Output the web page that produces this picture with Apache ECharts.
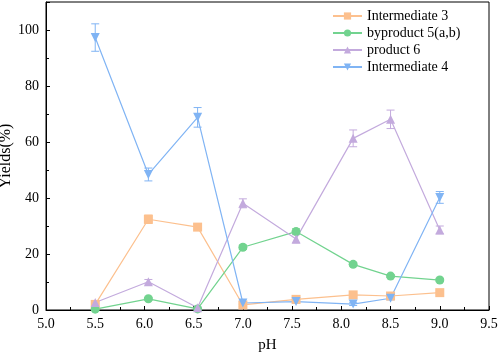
<!DOCTYPE html>
<html>
<head>
<meta charset="utf-8">
<script src="https://cdn.jsdelivr.net/npm/echarts@6/dist/echarts.min.js"></script>
<style>
  html, body { margin: 0; padding: 0; background: #fff; }
  #chart { width: 498px; height: 357px; }
</style>
</head>
<body>
<div id="chart"></div>
<script>
// pH values where samples were taken
const phValues = [5.5, 6.04, 6.54, 7.0, 7.54, 8.12, 8.5, 9.0]

const inter3 = [2.0, 32.4, 29.6, 1.8, 3.8, 5.4, 5.0, 6.2]
const inter3Err = [0.5, 1.5, 1.0, 0.5, 0.5, 0.5, 0.5, 0.6]

const byprod5 = [0.3, 4.0, 0.4, 22.4, 28.0, 16.3, 12.1, 10.7]
const byprod5Err = [0.3, 0.5, 0.3, 0.8, 1.0, 0.6, 0.5, 0.6]

const prod6 = [2.7, 10.1, 0.8, 38.1, 25.4, 61.3, 68.1, 28.6]
const prod6Err = [0.5, 0.8, 0.3, 1.6, 1.5, 3.0, 3.3, 1.4]

const inter4 = [97.3, 48.4, 68.8, 2.5, 3.0, 2.1, 4.2, 40.2]
const inter4Err = [4.9, 2.3, 3.5, 0.5, 0.5, 0.5, 0.6, 2.1]

const names = ['Intermediate 3', 'byproduct 5(a,b)', 'product 6', 'Intermediate 4']
const colors = ['#fcc08e', '#72d38f', '#c3aadd', '#80b4f4']
const symbols = ['rect', 'circle', 'triangle', 'triangle']
const rotates = [0, 0, 0, 180]
const values = [inter3, byprod5, prod6, inter4]
const errors = [inter3Err, byprod5Err, prod6Err, inter4Err]

const font = 'Liberation Serif'

const chart = echarts.init(document.getElementById('chart'))

let series = []
names.forEach((name, i) => {
  series.push({
    name: name,
    type: 'line',
    data: phValues.map((x, j) => [x, values[i][j]]),
    symbol: symbols[i],
    symbolSize: 9,
    symbolRotate: rotates[i],
    lineStyle: { color: colors[i], width: 1.2 },
    itemStyle: { color: colors[i] },
    z: 3
  })
  // error bars
  series.push({
    name: name + ' err',
    type: 'custom',
    data: phValues.map((x, j) => [x, values[i][j] - errors[i][j], values[i][j] + errors[i][j]]),
    renderItem: (params, api) => {
      const lo = api.coord([api.value(0), api.value(1)])
      const hi = api.coord([api.value(0), api.value(2)])
      const w = 4
      const style = { stroke: colors[i], lineWidth: 1 }
      return {
        type: 'group',
        children: [
          { type: 'line', shape: { x1: lo[0], y1: lo[1], x2: hi[0], y2: hi[1] }, style: style },
          { type: 'line', shape: { x1: lo[0] - w, y1: lo[1], x2: lo[0] + w, y2: lo[1] }, style: style },
          { type: 'line', shape: { x1: hi[0] - w, y1: hi[1], x2: hi[0] + w, y2: hi[1] }, style: style }
        ]
      }
    },
    z: 2
  })
})

let option = {
  animation: false,
  grid: {
    left: 46, right: 9, top: 2, bottom: 47,
    outerBoundsMode: 'none',
    show: true, borderColor: '#000', borderWidth: 1
  },
  legend: {
    data: names,
    orient: 'vertical',
    left: 327,
    top: 4,
    itemWidth: 29,
    itemHeight: 9,
    itemGap: 3,
    textStyle: { fontFamily: font, fontSize: 14, color: '#000' }
  },
  xAxis: {
    type: 'value',
    min: 5.0,
    max: 9.5,
    interval: 0.5,
    name: 'pH',
    nameLocation: 'middle',
    nameGap: 28,
    nameMoveOverlap: false,
    nameTextStyle: { fontFamily: font, fontSize: 15, color: '#000' },
    axisLine: { lineStyle: { color: '#000', width: 1 } },
    axisTick: { inside: true, length: 4, lineStyle: { color: '#000' } },
    minorTick: { show: true, splitNumber: 2, length: 3, lineStyle: { color: '#000' } },
    axisLabel: {
      fontFamily: font, fontSize: 14, color: '#000', margin: 7,
      formatter: v => v.toFixed(1)
    },
    splitLine: { show: false }
  },
  yAxis: {
    type: 'value',
    min: 0,
    max: 110,
    interval: 20,
    name: 'Yields(%)',
    nameLocation: 'middle',
    nameGap: 32,
    nameMoveOverlap: false,
    nameTextStyle: { fontFamily: font, fontSize: 16, color: '#000' },
    axisLine: { show: true, lineStyle: { color: '#000', width: 1 } },
    axisTick: { inside: true, length: 4, lineStyle: { color: '#000' } },
    minorTick: { show: true, splitNumber: 2, length: 3, lineStyle: { color: '#000' } },
    axisLabel: {
      fontFamily: font, fontSize: 14, color: '#000', margin: 7,
      showMaxLabel: false,
      formatter: v => (v > 100 ? '' : v)
    },
    splitLine: { show: false }
  },
  series: series
}

chart.setOption(option)
</script>
</body>
</html>
